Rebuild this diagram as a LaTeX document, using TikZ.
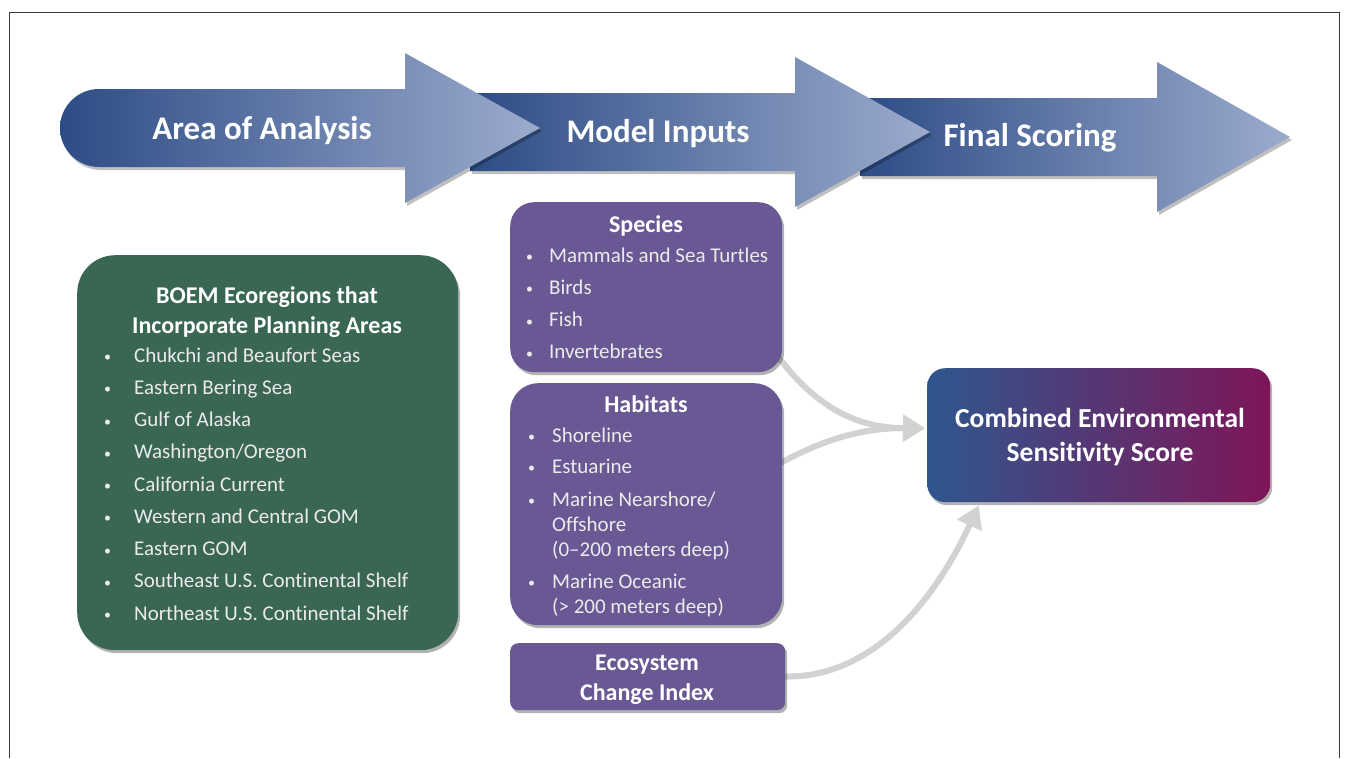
\documentclass[tikz,border=0pt]{standalone}
\usepackage{fontspec}
\setmainfont{Carlito}[Ligatures=NoCommon]
\usetikzlibrary{arrows.meta,shadows,calc}
\definecolor{boemgreen}{HTML}{3A6654}
\definecolor{inpurple}{HTML}{6A5894}
\definecolor{arrdark}{HTML}{2D4C85}
\definecolor{arrlight}{HTML}{9CABCD}
\definecolor{cesblue}{HTML}{2F578E}
\definecolor{cesmag}{HTML}{7E1558}
\definecolor{conngray}{HTML}{D2D2D2}
\definecolor{bultext}{HTML}{EBEBEB}
\definecolor{framegray}{HTML}{3A3A3A}
\newcommand{\bul}[1]{\makebox[#1][l]{\fontsize{14}{14}\selectfont\raisebox{0.5pt}{•}}}
\begin{document}
\begin{tikzpicture}[x=1pt,y=-1pt,
  boxshadow/.style={drop shadow={shadow xshift=2pt,shadow yshift=-3pt,opacity=0.3,fill=black}},
  greenbox/.style={fill=boemgreen, rounded corners=38pt, boxshadow, inner sep=0pt, anchor=north west},
  purplebox/.style={fill=inpurple, inner sep=0pt, anchor=north west, boxshadow},
  stagearrow/.style={left color=arrdark, right color=arrlight, drop shadow={shadow xshift=2pt,shadow yshift=-3pt,opacity=0.25,fill=black}},
  stagetext/.style={font=\fontsize{33}{36}\selectfont\bfseries, text=white, anchor=base, inner sep=0pt},
  titletext/.style={font=\fontsize{24}{28}\selectfont\bfseries, text=white, anchor=base, inner sep=0pt},
  scoretext/.style={font=\fontsize{27.5}{30}\selectfont\bfseries, text=white, anchor=base, inner sep=0pt},
  listtext/.style={font=\fontsize{21}{24}\selectfont, text=bultext, anchor=base west, inner sep=0pt},
  connector/.style={draw=conngray, line width=6pt, -{Triangle[length=22pt,width=26pt]}},
]
\useasboundingbox (0,0) rectangle (1355,758);
\fill[white] (0,0) rectangle (1355,758);
% frame
\draw[framegray, line width=1pt] (9,758) -- (9,12) -- (1339,12) -- (1339,758);

% stage arrows (back to front)
\shade[stagearrow] (860,98) -- (1157,98) -- (1157,62) -- (1290,137) -- (1157,212) -- (1157,176) -- (860,176) -- cycle;
\shade[stagearrow] (470,93) -- (795,93) -- (795,57) -- (930,132) -- (795,207) -- (795,171) -- (470,171) -- cycle;
\shade[stagearrow] (405,89) -- (405,53) -- (540,128) -- (405,203) -- (405,167) -- (99,167)
   .. controls (77.5,167) and (60,149.5) .. (60,128)
   .. controls (60,106.5) and (77.5,89) .. (99,89) -- cycle;

\node[stagetext] (stage1) at (262,139) {Area of Analysis};
\node[stagetext] (stage2) at (658,142) {Model Inputs};
\node[stagetext] (stage3) at (1030,146) {Final Scoring};

% boxes
\node[rounded corners=18pt, left color=cesblue, right color=cesmag, boxshadow,
      minimum width=343pt, minimum height=134pt, anchor=north west, inner sep=0pt] (ces) at (927,368) {};

% connectors (drawn before the input boxes so they emerge from behind)
\draw[connector] (772,348) .. controls (815,410) and (860,428) .. ($(ces.west)+(-2,-7)$);
\draw[connector] (775,466) .. controls (830,435) and (870,428) .. ($(ces.west)+(-2,-7)$);
\draw[connector] (775,676) .. controls (870,684) and (935,600) .. ($(ces.south)+(-120,3)$);

\node[greenbox, minimum width=381pt, minimum height=395pt] (eco) at (77,255) {};
\node[purplebox, rounded corners=24pt, minimum width=272pt, minimum height=170pt] (species) at (510,202) {};
\node[purplebox, rounded corners=28pt, minimum width=272pt, minimum height=242pt] (habitats) at (510,383) {};
\node[purplebox, rounded corners=8pt, minimum width=275pt, minimum height=67pt] (ecoidx) at (510,643) {};

% score text
\node[scoretext] (ces1) at (1100,427) {Combined Environmental};
\node[scoretext] (ces2) at (1100,461) {Sensitivity Score};

% ecoregions
\node[titletext] (ecot1) at (267,303) {BOEM Ecoregions that};
\node[titletext] (ecot2) at (267,333) {Incorporate Planning Areas};
\foreach \t [count=\i] in {Chukchi and Beaufort Seas, Eastern Bering Sea, Gulf of Alaska,
   Washington/Oregon, California Current, Western and Central GOM, Eastern GOM,
   Southeast U.S. Continental Shelf, Northeast U.S. Continental Shelf}
  \node[listtext] (ecol\i) at (104,{362+32.25*(\i-1)}) {\bul{30pt}\t};

% species
\node[titletext] (spt) at (646,232) {Species};
\foreach \t [count=\i] in {Mammals and Sea Turtles, Birds, Fish, Invertebrates}
  \node[listtext] (spl\i) at (526,{262+32.3*(\i-1)}) {\bul{23pt}\t};

% habitats
\node[titletext] (hat) at (646,412) {Habitats};
\node[listtext] (hal1) at (528,442) {\bul{24pt}Shoreline};
\node[listtext] (hal2) at (528,473) {\bul{24pt}Estuarine};
\node[listtext] (hal3) at (528,506) {\bul{24pt}Marine Nearshore/};
\node[listtext] (hal4) at (552,531) {Offshore};
\node[listtext] (hal5) at (552,556) {(0–200 meters deep)};
\node[listtext] (hal6) at (528,588) {\bul{24pt}Marine Oceanic};
\node[listtext] (hal7) at (552,613) {(> 200 meters deep)};

% ecosystem change index
\node[titletext] (eci1) at (647,670) {Ecosystem};
\node[titletext] (eci2) at (647,700) {Change Index};
\end{tikzpicture}
\end{document}
